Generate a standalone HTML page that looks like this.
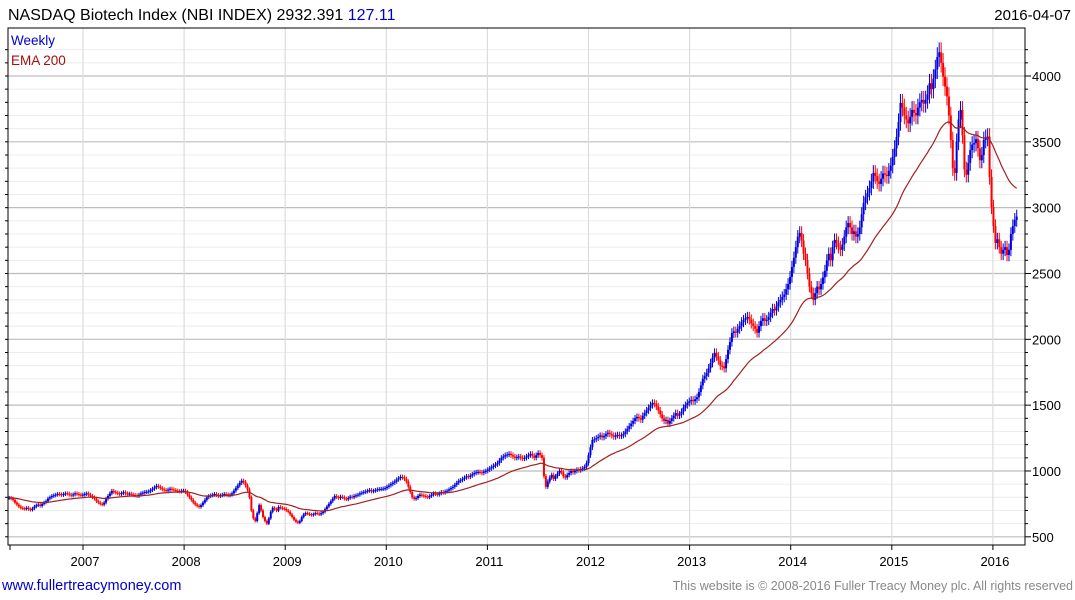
<!DOCTYPE html>
<html><head><meta charset="utf-8"><style>
body{margin:0;background:#fff;width:1075px;height:600px;overflow:hidden;font-family:"Liberation Sans",sans-serif}
svg{position:absolute;left:0;top:0}
</style></head><body>
<svg id="c" width="1075" height="600" font-family="Liberation Sans, sans-serif">
<text x="8" y="20" font-size="16" fill="#000">NASDAQ Biotech Index (NBI INDEX) 2932.391 <tspan fill="#0000cc">127.11</tspan></text>
<text x="1071" y="20" font-size="15" fill="#000" text-anchor="end">2016-04-07</text>
<g id="grid"></g><g id="marks"></g>
<rect x="8" y="28" width="1017" height="517" fill="none" stroke="#000" stroke-width="1"/>
<text x="11" y="45" font-size="13.5" fill="#0000cc">Weekly</text>
<text x="11" y="65" font-size="13.5" fill="#a01010">EMA 200</text>
<text x="2" y="590" font-size="14.5" fill="#0000cc">www.fullertreacymoney.com</text>
<text x="1073" y="590" font-size="12.5" fill="#888" text-anchor="end">This website is © 2008-2016 Fuller Treacy Money plc. All rights reserved</text>
</svg>
<script>
const yTicks=[500,1000,1500,2000,2500,3000,3500,4000];
const years=[2007,2008,2009,2010,2011,2012,2013,2014,2015,2016];
const startYear=2006.27;
const closes2006=[796,790,780,760,745,730,720,715,712,720,710,705,715,730,740,745,735,750,760,770,790,800,810,815,820,826,822,818,825,830,828,820,815,822,830,826,820,818];
const closes2007=[820,825,830,820,810,800,790,770,760,750,745,760,790,810,830,849,840,835,830,825,832,838,830,825,828,822,818,815,810,820,830,835,840,842,845,855,865,875,887,880,870,860,855,850,858,865,860,855,850,848,845,850];
const closes2008=[850,840,820,800,780,760,745,735,727,740,760,780,800,810,815,820,825,818,810,815,820,825,822,815,820,830,850,870,890,910,925,915,890,860,800,700,640,620,680,740,700,650,620,600,640,690,720,710,700,727,720,715];
const closes2009=[712,700,690,670,650,630,615,607,620,650,670,680,675,670,665,672,680,676,670,680,690,710,730,750,770,790,810,800,795,805,800,790,785,795,805,800,810,815,820,830,835,840,845,850,855,845,850,855,860,862,864,866];
const closes2010=[870,880,890,900,910,920,935,945,955,950,940,920,880,840,800,788,795,810,820,815,810,805,800,810,820,830,825,820,830,840,835,845,850,860,870,880,895,910,925,930,940,950,960,955,965,975,985,990,993,990,985,995];
const closes2011=[1000,1010,1020,1030,1040,1050,1060,1080,1100,1110,1120,1125,1130,1120,1110,1100,1105,1110,1100,1095,1100,1110,1120,1130,1115,1100,1120,1137,1120,1100,960,880,920,950,970,940,960,980,1000,990,960,950,970,985,1000,990,1000,1010,1005,1015,1020,1031];
const closes2012=[1060,1120,1180,1236,1240,1250,1260,1270,1255,1265,1280,1290,1280,1270,1260,1270,1275,1265,1270,1280,1300,1320,1340,1360,1380,1400,1411,1400,1390,1420,1440,1460,1480,1500,1517,1510,1490,1460,1430,1400,1380,1388,1360,1380,1400,1420,1440,1420,1430,1450,1480,1500];
const closes2013=[1517,1530,1540,1530,1545,1560,1600,1650,1700,1720,1745,1780,1820,1860,1897,1870,1840,1800,1796,1780,1850,1920,1980,2048,2060,2050,2080,2100,2130,2147,2160,2170,2150,2120,2100,2080,2050,2100,2140,2160,2140,2147,2170,2200,2230,2220,2250,2280,2300,2322,2340,2380];
const closes2014=[2420,2474,2550,2620,2700,2780,2808,2750,2650,2603,2500,2400,2351,2300,2350,2400,2380,2420,2470,2520,2600,2650,2600,2700,2755,2732,2700,2680,2720,2780,2850,2884,2850,2800,2820,2780,2800,2850,2950,3036,3080,3110,3150,3200,3264,3240,3200,3180,3220,3260,3250,3240];
const closes2015=[3280,3320,3385,3450,3537,3650,3795,3760,3700,3670,3640,3690,3742,3720,3700,3760,3800,3818,3790,3820,3860,3945,3900,3980,4050,4144,4180,4100,3995,3920,3845,3700,3514,3300,3264,3500,3670,3742,3550,3290,3250,3340,3437,3480,3490,3520,3450,3360,3400,3514,3530,3540];
const closes2016=[3233,3005,2860,2732,2760,2700,2650,2680,2700,2640,2680,2800,2860,2907,2932];
const closes=[].concat(closes2006,closes2007,closes2008,closes2009,closes2010,closes2011,closes2012,closes2013,closes2014,closes2015,closes2016);

const NS='http://www.w3.org/2000/svg';
const X0=8,X1=1025,Y0=28,Y1=545;
function yOf(v){return 76+(4000-v)*0.13166;}
function xOf(t){return 83+(t-2007)*101.1;}
function mk(tag,attrs,parent){const e=document.createElementNS(NS,tag);for(const k in attrs)e.setAttribute(k,attrs[k]);parent.appendChild(e);return e;}
const grid=document.getElementById('grid'),marks=document.getElementById('marks'),svg=document.getElementById('c');
for(let v=500;v<=4200;v+=100){
  const y=yOf(v);
  const major=v%500===0;
  const l=mk('line',{x1:X0,x2:X1,y1:y,y2:y,stroke:major?'#bdbdbd':'#ececec','stroke-width':major?1.2:1},grid);
  
  
  const t1=mk('line',{x1:X1,x2:X1+(major?6:3),y1:y,y2:y,stroke:'#000'},grid);
  
  
  const t2=mk('line',{x1:X0-3,x2:X0,y1:y,y2:y,stroke:'#000'},grid);
  
  
}
yTicks.forEach(v=>{
  const t=mk('text',{x:1032,y:yOf(v)+5,'font-size':13,fill:'#000'},svg);
  t.textContent=v;
  
  
});
years.forEach(yr=>{
  const x=xOf(yr);
  const l=mk('line',{x1:x,x2:x,y1:Y0,y2:Y1,stroke:'#dcdcdc','stroke-width':1.2},grid);
  
  
  const tk=mk('line',{x1:x,x2:x,y1:Y1,y2:Y1+5,stroke:'#000'},grid);
  
  
  const t=mk('text',{x:x+2,y:566,'font-size':13,fill:'#000','text-anchor':'middle'},svg);
  t.textContent=yr;
  
  
});
const tk0=mk('line',{x1:10,x2:10,y1:Y1,y2:Y1+5,stroke:'#000'},grid);


const wk=1/52.18;
let ema=closes[0];const a=2/41;const pts=[];
closes.forEach((c,i)=>{
  const o=i>0?closes[i-1]:c;
  const x=xOf(startYear+i*wk);
  const hi=Math.max(o,c)*1.018, lo=Math.min(o,c)*0.982;
  const up=c>=o;
  const r=mk('rect',{x:x-0.5,y:yOf(hi),width:1,height:Math.max(1,yOf(lo)-yOf(hi)),fill:up?'#0000dd':'#ff0000'},marks);
  
  
  const b=mk('rect',{x:x-1,y:yOf(Math.max(o,c)),width:2,height:Math.max(1,yOf(Math.min(o,c))-yOf(Math.max(o,c))),fill:up?'#0000dd':'#ff0000'},marks);
  
  
  ema=i===0?c:ema+a*(c-ema);
  pts.push(x.toFixed(1)+','+yOf(ema).toFixed(1));
});
const p=mk('polyline',{points:pts.join(' '),fill:'none',stroke:'#a02020','stroke-width':1.2},marks);


</script>
</body></html>
